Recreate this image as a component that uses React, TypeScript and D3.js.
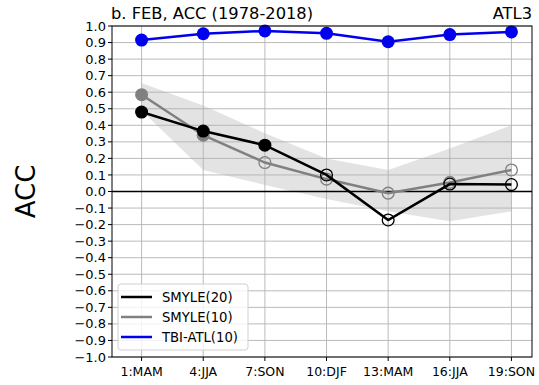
import React, { useEffect } from "react";
import * as d3 from "d3";

// lead months and their labels
const leads = [1, 4, 7, 10, 13, 16, 19];
const leadLabels = ["1:MAM", "4:JJA", "7:SON", "10:DJF", "13:MAM", "16:JJA", "19:SON"];

// ACC values
const smyle20 = [0.48, 0.365, 0.28, 0.1, -0.172, 0.045, 0.042];
const smyle20Sig = [true, true, true, false, false, false, false];
const smyle10 = [0.585, 0.34, 0.175, 0.075, -0.01, 0.055, 0.13];
const smyle10Sig = [true, true, false, false, false, false, false];
const tbiAtl = [0.915, 0.953, 0.97, 0.956, 0.905, 0.948, 0.964];

// spread band (min/max) for SMYLE(10)
const bandUpper = [0.655, 0.52, 0.352, 0.2, 0.13, 0.26, 0.4];
const bandLower = [0.49, 0.13, 0.04, -0.045, -0.12, -0.18, -0.12];

const yTicks = d3.range(-10, 11).map((d) => d / 10);

const FONT = "DejaVu Sans, sans-serif";

export default function App() {
  useEffect(() => {
    document.body.style.margin = "0";
  }, []);

  const W = 539;
  const H = 385;
  const margin = { top: 26, right: 7, bottom: 28, left: 112 };

  const x = d3.scaleLinear().domain([-0.44, 20]).range([margin.left, W - margin.right]);
  const y = d3.scaleLinear().domain([-1, 1]).range([H - margin.bottom, margin.top]);

  const line = d3
    .line<number>()
    .x((_, i) => x(leads[i]))
    .y((d) => y(d));

  const area = d3
    .area<number>()
    .x((_, i) => x(leads[i]))
    .y0((_, i) => y(bandLower[i]))
    .y1((d) => y(d));

  const [x0, x1] = x.range();
  const [yb, yt] = y.range();

  const series = [
    { vals: smyle10, sig: smyle10Sig, color: "#808080", r: 6.5 },
    { vals: smyle20, sig: smyle20Sig, color: "#000000", r: 6.5 },
  ];

  const legend = [
    { name: "SMYLE(20)", color: "#000000" },
    { name: "SMYLE(10)", color: "#808080" },
    { name: "TBI-ATL(10)", color: "#0000ee" },
  ];

  return (
    <svg width={W} height={H} style={{ display: "block", fontFamily: FONT }}>
      <rect width={W} height={H} fill="#fff" />

      {/* shaded band */}
      <path d={area(bandUpper) || ""} fill="#d9d9d9" opacity={0.75} />

      {/* grid */}
      {yTicks.map((t) => (
        <line key={"gy" + t} x1={x0} x2={x1} y1={y(t)} y2={y(t)} stroke="#b0b0b0" strokeWidth={1} opacity={0.85} />
      ))}
      {leads.map((l) => (
        <line key={"gx" + l} x1={x(l)} x2={x(l)} y1={yt} y2={yb} stroke="#b0b0b0" strokeWidth={1} opacity={0.85} />
      ))}

      {/* zero line */}
      <line x1={x0} x2={x1} y1={y(0)} y2={y(0)} stroke="#000" strokeWidth={1.5} />

      {/* SMYLE lines */}
      {series.map((s, si) => (
        <g key={"s" + si}>
          <path d={line(s.vals) || ""} fill="none" stroke={s.color} strokeWidth={2.5} />
          {s.vals.map((v, i) => (
            <circle
              key={i}
              cx={x(leads[i])}
              cy={y(v)}
              r={s.sig[i] ? s.r : s.r - 0.6}
              fill={s.sig[i] ? s.color : "none"}
              stroke={s.color}
              strokeWidth={s.sig[i] ? 0 : 1.3}
            />
          ))}
        </g>
      ))}

      {/* TBI-ATL */}
      <path d={line(tbiAtl) || ""} fill="none" stroke="#0000ee" strokeWidth={2.5} />
      {tbiAtl.map((v, i) => (
        <circle key={"b" + i} cx={x(leads[i])} cy={y(v)} r={6.5} fill="#0000ee" />
      ))}

      {/* frame */}
      <rect x={x0} y={yt} width={x1 - x0} height={yb - yt} fill="none" stroke="#000" strokeWidth={1} />

      {/* y ticks */}
      {yTicks.map((t) => (
        <g key={"yt" + t}>
          <line x1={x0 - 4} x2={x0} y1={y(t)} y2={y(t)} stroke="#000" />
          <text x={x0 - 6} y={y(t)} dy="0.35em" textAnchor="end" fontSize={13} fill="#000">
            {d3.format(".1f")(t).replace("-", "\u2212")}
          </text>
        </g>
      ))}

      {/* x ticks */}
      {leads.map((l, i) => (
        <g key={"xt" + l}>
          <line x1={x(l)} x2={x(l)} y1={yb} y2={yb + 4} stroke="#000" />
          <text x={x(l)} y={yb + 19} textAnchor="middle" fontSize={12.5} fill="#000">
            {leadLabels[i]}
          </text>
        </g>
      ))}

      {/* titles */}
      <text x={x0 - 1} y={19} fontSize={16.3} fill="#000">
        b. FEB, ACC (1978-2018)
      </text>
      <text x={x1} y={19} textAnchor="end" fontSize={16.3} fill="#000">
        ATL3
      </text>

      {/* y label */}
      <text transform={`translate(35,${y(0)}) rotate(-90)`} textAnchor="middle" fontSize={26} fill="#000">
        ACC
      </text>

      {/* legend */}
      <g>
        <rect x={118} y={284} width={130} height={66} rx={3} fill="#fff" fillOpacity={0.8} stroke="#d0d0d0" />
        {legend.map((e, i) => (
          <g key={e.name} transform={`translate(121,${297 + i * 20})`}>
            <line x1={0} x2={31} y1={0} y2={0} stroke={e.color} strokeWidth={2.5} />
            <text x={41} y={0} dy="0.35em" fontSize={13.2} fill="#000">
              {e.name}
            </text>
          </g>
        ))}
      </g>
    </svg>
  );
}
